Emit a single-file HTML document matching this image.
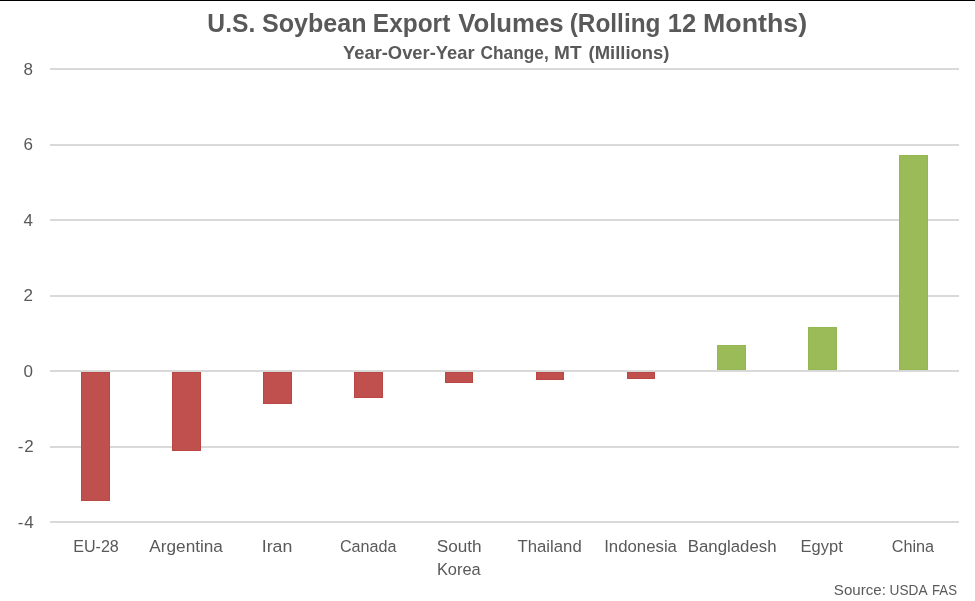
<!DOCTYPE html>
<html><head><meta charset="utf-8"><style>
html,body{margin:0;padding:0;background:#fff;width:975px;height:601px;overflow:hidden}
svg{display:block;will-change:transform}
text{font-family:"Liberation Sans",sans-serif;fill:#595959}
.t{font-weight:bold}
</style></head><body>
<svg width="975" height="601" viewBox="0 0 975 601">
<rect x="0" y="0" width="975" height="601" fill="#fff"/>
<rect x="0" y="0" width="975" height="1" fill="#000"/>
<!-- gridlines -->
<g fill="#d9d9d9">
<rect x="50" y="68" width="909" height="2"/>
<rect x="50" y="144" width="909" height="2"/>
<rect x="50" y="219" width="909" height="2"/>
<rect x="50" y="295" width="909" height="2"/>
<rect x="50" y="370" width="909" height="2"/>
<rect x="50" y="446" width="909" height="2"/>
<rect x="50" y="521" width="909" height="2"/>
</g>
<!-- bars -->
<g fill="#c0504d" stroke="#bb4744" stroke-width="1">
<rect x="81.5" y="372.5" width="28" height="128"/>
<rect x="172.5" y="372.5" width="28" height="78"/>
<rect x="263.5" y="372.5" width="28" height="31"/>
<rect x="354.5" y="372.5" width="28" height="25"/>
<rect x="445.5" y="372.5" width="27" height="10"/>
<rect x="536.5" y="372.5" width="27" height="7"/>
<rect x="627.5" y="372.5" width="27" height="6"/>
</g>
<g fill="#9bbb59" stroke="#95b751" stroke-width="1">
<rect x="717.5" y="345.5" width="28" height="24"/>
<rect x="808.5" y="327.5" width="28" height="42"/>
<rect x="899.5" y="155.5" width="28" height="214"/>
</g>
<!-- y labels -->
<g font-size="17" text-anchor="end">
<text x="33" y="75">8</text>
<text x="33" y="150">6</text>
<text x="33" y="226">4</text>
<text x="33" y="301">2</text>
<text x="33" y="377">0</text>
<text x="33.8" y="452">-<tspan dx="0.8">2</tspan></text>
<text x="33.8" y="528">-<tspan dx="0.8">4</tspan></text>
</g>
<text class="t" x="207.36" y="31.6" font-size="25.6" textLength="47.91" lengthAdjust="spacingAndGlyphs">U.S.</text>
<text class="t" x="261.97" y="31.6" font-size="25.6" textLength="104.65" lengthAdjust="spacingAndGlyphs">Soybean</text>
<text class="t" x="372.86" y="31.6" font-size="25.6" textLength="77.42" lengthAdjust="spacingAndGlyphs">Export</text>
<text class="t" x="458.18" y="31.6" font-size="25.6" textLength="105.51" lengthAdjust="spacingAndGlyphs">Volumes</text>
<text class="t" x="569.70" y="31.6" font-size="25.6" textLength="90.78" lengthAdjust="spacingAndGlyphs">(Rolling</text>
<text class="t" x="667.84" y="31.6" font-size="25.6" textLength="28.41" lengthAdjust="spacingAndGlyphs">12</text>
<text class="t" x="703.05" y="31.6" font-size="25.6" textLength="104.04" lengthAdjust="spacingAndGlyphs">Months)</text>
<text class="t" x="343.00" y="58.7" font-size="18.5" textLength="131.56" lengthAdjust="spacingAndGlyphs">Year-Over-Year</text>
<text class="t" x="480.60" y="58.7" font-size="18.5" textLength="68.15" lengthAdjust="spacingAndGlyphs">Change,</text>
<text class="t" x="554.12" y="58.7" font-size="18.5" textLength="27.54" lengthAdjust="spacingAndGlyphs">MT</text>
<text class="t" x="588.61" y="58.7" font-size="18.5" textLength="80.89" lengthAdjust="spacingAndGlyphs">(Millions)</text>
<text x="73.18" y="552" font-size="17.4" textLength="45.66" lengthAdjust="spacingAndGlyphs">EU-28</text>
<text x="149.35" y="552" font-size="17.4" textLength="73.58" lengthAdjust="spacingAndGlyphs">Argentina</text>
<text x="261.71" y="552" font-size="17.4" textLength="30.60" lengthAdjust="spacingAndGlyphs">Iran</text>
<text x="339.97" y="552" font-size="17.4" textLength="56.51" lengthAdjust="spacingAndGlyphs">Canada</text>
<text x="436.75" y="552" font-size="17.4" textLength="44.91" lengthAdjust="spacingAndGlyphs">South</text>
<text x="436.89" y="574.5" font-size="17.4" textLength="43.79" lengthAdjust="spacingAndGlyphs">Korea</text>
<text x="517.57" y="552" font-size="17.4" textLength="64.12" lengthAdjust="spacingAndGlyphs">Thailand</text>
<text x="604.17" y="552" font-size="17.4" textLength="72.78" lengthAdjust="spacingAndGlyphs">Indonesia</text>
<text x="687.81" y="552" font-size="17.4" textLength="88.69" lengthAdjust="spacingAndGlyphs">Bangladesh</text>
<text x="800.62" y="552" font-size="17.4" textLength="42.17" lengthAdjust="spacingAndGlyphs">Egypt</text>
<text x="891.80" y="552" font-size="17.4" textLength="42.33" lengthAdjust="spacingAndGlyphs">China</text>
<text x="833.85" y="594.9" font-size="14.4" textLength="51.99" lengthAdjust="spacingAndGlyphs">Source:</text>
<text x="889.57" y="594.9" font-size="14.4" textLength="37.93" lengthAdjust="spacingAndGlyphs">USDA</text>
<text x="931.94" y="594.9" font-size="14.4" textLength="25.03" lengthAdjust="spacingAndGlyphs">FAS</text>
</svg>
</body></html>
